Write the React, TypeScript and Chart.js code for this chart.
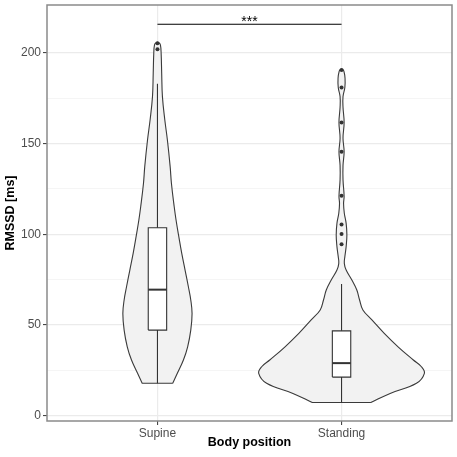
import React, { useEffect, useRef } from 'react';
import { Chart, registerables } from 'chart.js';

Chart.register(...registerables);

// ---- data ----
const categories = ['Supine', 'Standing'];
const yMajorTicks = [0, 50, 100, 150, 200];
const yMinorTicks = [25, 75, 125, 175];

// violin outlines: RMSSD value and half width (in category units)
const supineDensityY = [17.9, 23.4, 30.7, 38, 47.2, 56.4, 63.8, 71.1, 80.3, 89.5, 98.7, 107.9, 115.2, 128, 137.3, 152, 163, 175.9, 188.8, 199.8, 204.4, 205.6];
const supineDensityHalfWidth = [0.083, 0.108, 0.141, 0.164, 0.181, 0.188, 0.181, 0.168, 0.15, 0.132, 0.116, 0.101, 0.091, 0.076, 0.069, 0.054, 0.04, 0.027, 0.023, 0.02, 0.016, 0.008];

const standingDensityY = [7.3, 12.3, 17.9, 23.4, 27, 30.7, 38, 45.4, 52.8, 58.3, 63.8, 69.3, 74.8, 80.3, 84, 87.7, 93.2, 99.6, 106, 111.6, 117, 121, 130, 138, 145.5, 153, 161.7, 170, 176, 181, 186, 189.8, 190.8];
const standingDensityHalfWidth = [0.159, 0.264, 0.407, 0.45, 0.434, 0.39, 0.307, 0.232, 0.165, 0.116, 0.098, 0.083, 0.056, 0.025, 0.015, 0.018, 0.025, 0.029, 0.025, 0.015, 0.011, 0.014, 0.008, 0.008, 0.014, 0.008, 0.014, 0.008, 0.008, 0.018, 0.019, 0.013, 0.006];

// box plot statistics
const q1 = [47.2, 21.3];
const medians = [69.5, 29.0];
const q3 = [103.6, 46.8];
const whiskerLow = [17.9, 7.3];
const whiskerHigh = [183.0, 72.6];
const supineOutliers = [202.0, 205.3];
const standingOutliers = [94.5, 100.2, 105.4, 121.2, 145.5, 161.7, 180.9, 190.6];

// significance annotation
const sigLabel = '***';
const sigY = 215.8;

const xTitle = 'Body position';
const yTitle = 'RMSSD [ms]';

const FONT = "'Liberation Sans', Arial, Helvetica, sans-serif";
const BOX_HALF = 0.05;

function violinPolygon(center: number, ys: number[], hws: number[]) {
  const right = ys.map((y, i) => ({ x: center + hws[i], y }));
  const left = ys.map((y, i) => ({ x: center - hws[i], y })).reverse();
  // duplicate the bottom corners so the smoothed outline keeps them sharp
  const pts = [right[0], ...right, ...left, left[left.length - 1], right[0]];
  return pts;
}

function boxPolygon(center: number, lo: number, hi: number) {
  return [
    { x: center - BOX_HALF, y: lo },
    { x: center + BOX_HALF, y: lo },
    { x: center + BOX_HALF, y: hi },
    { x: center - BOX_HALF, y: hi },
    { x: center - BOX_HALF, y: lo },
  ];
}

const textPlugin = {
  id: 'textPlugin',
  afterDraw(chart: any) {
    const { ctx, chartArea, scales } = chart;
    ctx.save();
    // panel border
    ctx.strokeStyle = '#8a8a8a';
    ctx.lineWidth = 1.5;
    ctx.strokeRect(chartArea.left, chartArea.top, chartArea.right - chartArea.left, chartArea.bottom - chartArea.top);
    // significance label
    ctx.fillStyle = '#000000';
    ctx.font = `14px ${FONT}`;
    ctx.textAlign = 'center';
    ctx.textBaseline = 'alphabetic';
    ctx.fillText(sigLabel, scales.x.getPixelForValue(1.5), scales.y.getPixelForValue(sigY) + 2);
    // axis titles
    ctx.font = `bold 12.5px ${FONT}`;
    ctx.textBaseline = 'middle';
    ctx.fillText(xTitle, (chartArea.left + chartArea.right) / 2, 443);
    ctx.translate(10.5, (chartArea.top + chartArea.bottom) / 2);
    ctx.rotate(-Math.PI / 2);
    ctx.fillText(yTitle, 0, 0);
    ctx.restore();
  },
};

export default function App() {
  const canvasRef = useRef<HTMLCanvasElement | null>(null);

  useEffect(() => {
    if (!canvasRef.current) return;
    const line = '#333333';
    const datasets: any[] = [];
    const violins = [
      violinPolygon(1, supineDensityY, supineDensityHalfWidth),
      violinPolygon(2, standingDensityY, standingDensityHalfWidth),
    ];
    violins.forEach((pts) => {
      datasets.push({
        data: pts,
        showLine: true,
        fill: 'shape',
        backgroundColor: '#F2F2F2',
        borderColor: '#3a3a3a',
        borderWidth: 1.1,
        pointRadius: 0,
        tension: 0.4,
        order: 10,
      });
    });
    categories.forEach((_, i) => {
      const c = i + 1;
      datasets.push({
        data: [{ x: c, y: whiskerLow[i] }, { x: c, y: whiskerHigh[i] }],
        showLine: true,
        borderColor: line,
        borderWidth: 1.1,
        pointRadius: 0,
        order: 8,
      });
      datasets.push({
        data: boxPolygon(c, q1[i], q3[i]),
        showLine: true,
        fill: 'shape',
        backgroundColor: '#FFFFFF',
        borderColor: line,
        borderWidth: 1.1,
        pointRadius: 0,
        order: 6,
      });
      datasets.push({
        data: [{ x: c - BOX_HALF, y: medians[i] }, { x: c + BOX_HALF, y: medians[i] }],
        showLine: true,
        borderColor: line,
        borderWidth: 2,
        pointRadius: 0,
        order: 5,
      });
    });
    datasets.push({
      data: [
        ...supineOutliers.map((y) => ({ x: 1, y })),
        ...standingOutliers.map((y) => ({ x: 2, y })),
      ],
      showLine: false,
      pointRadius: 2,
      pointBackgroundColor: line,
      pointBorderColor: line,
      pointBorderWidth: 0,
      order: 3,
    });
    datasets.push({
      data: [{ x: 1, y: sigY }, { x: 2, y: sigY }],
      showLine: true,
      borderColor: '#000000',
      borderWidth: 1.1,
      pointRadius: 0,
      order: 1,
    });

    const chart = new Chart(canvasRef.current, {
      type: 'scatter',
      data: { datasets },
      plugins: [textPlugin],
      options: {
        animation: false,
        responsive: false,
        layout: { padding: { left: 0, top: 5, right: 5, bottom: 0 } },
        plugins: { legend: { display: false }, tooltip: { enabled: false } },
        scales: {
          x: {
            type: 'linear',
            min: 0.4,
            max: 2.6,
            afterBuildTicks: (s: any) => {
              s.ticks = categories.map((_, i) => ({ value: i + 1 }));
            },
            afterFit: (s: any) => {
              s.height = 36;
              s.paddingLeft = 0;
              s.paddingRight = 0;
            },
            ticks: {
              autoSkip: false,
              maxRotation: 0,
              padding: 1,
              color: '#4D4D4D',
              font: { family: FONT, size: 12 },
              callback: (v: any) => categories[Math.round(v) - 1] ?? '',
            },
            grid: { color: '#EBEBEB', lineWidth: 1.2, tickLength: 4, tickColor: '#333333', tickWidth: 1 },
            border: { display: false },
          },
          y: {
            type: 'linear',
            min: -2.9,
            max: 226.4,
            afterBuildTicks: (s: any) => {
              s.ticks = [...yMajorTicks, ...yMinorTicks].sort((a, b) => a - b).map((v) => ({ value: v }));
            },
            afterFit: (s: any) => {
              s.width = 47;
              s.paddingTop = 0;
              s.paddingBottom = 0;
            },
            ticks: {
              autoSkip: false,
              padding: 2,
              color: '#4D4D4D',
              font: { family: FONT, size: 12 },
              callback: (v: any) => (yMajorTicks.includes(v) ? String(v) : ''),
            },
            grid: {
              color: (ctx: any) => (yMajorTicks.includes(ctx.tick?.value) ? '#EBEBEB' : '#F3F3F3'),
              lineWidth: (ctx: any) => (yMajorTicks.includes(ctx.tick?.value) ? 1.2 : 0.8),
              tickLength: 4,
              tickColor: (ctx: any) => (yMajorTicks.includes(ctx.tick?.value) ? '#333333' : 'rgba(0,0,0,0)'),
              tickWidth: 1,
            },
            border: { display: false },
          },
        },
      } as any,
    });
    return () => chart.destroy();
  }, []);

  return (
    <div style={{ position: 'fixed', left: 0, top: 0, width: 457, height: 457, background: '#FFFFFF' }}>
      <canvas ref={canvasRef} width={457} height={457} />
    </div>
  );
}
